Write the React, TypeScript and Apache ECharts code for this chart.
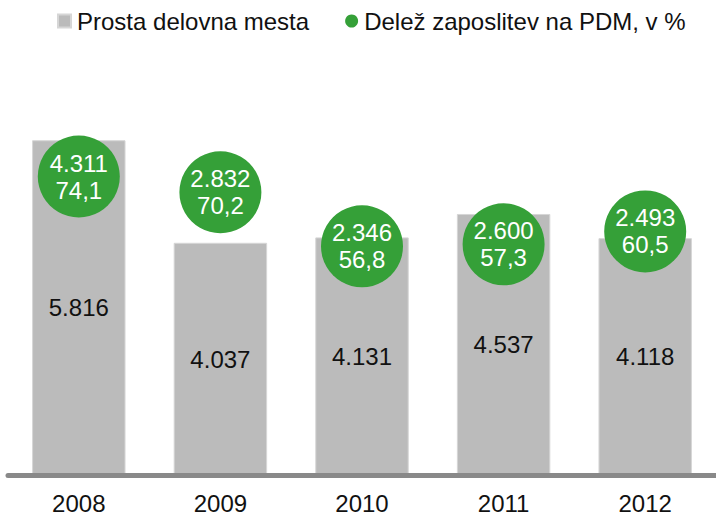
import React, { useEffect, useRef } from "react";
import * as echarts from "echarts";

const years = ["2008", "2009", "2010", "2011", "2012"];
const prostaMesta = [5816, 4037, 4131, 4537, 4118];
const zaposlitve = [4311, 2832, 2346, 2600, 2493];
const delez = [74.1, 70.2, 56.8, 57.3, 60.5];

const FONT = "'Liberation Sans', Arial, sans-serif";

function fmtThousands(v: number): string {
  return String(v).replace(/\B(?=(\d{3})+(?!\d))/g, ".");
}
function fmtDec(v: number): string {
  return v.toFixed(1).replace(".", ",");
}

export default function App() {
  const ref = useRef<HTMLDivElement>(null);
  useEffect(() => {
    if (!ref.current) return;
    const chart = echarts.init(ref.current, undefined, { renderer: "svg" });
    chart.setOption({
      animation: false,
      textStyle: { fontFamily: FONT },
      legend: {
        top: 4,
        left: 52,
        itemWidth: 13,
        itemHeight: 13,
        itemGap: 36,
        textStyle: { fontSize: 24, color: "#111", fontFamily: FONT, padding: [0, 0, 0, 1] },
        data: [
          { name: "Prosta delovna mesta", icon: "rect" },
          { name: "Delež zaposlitev na PDM, v %", icon: "circle" },
        ],
      },
      grid: { left: 8, width: 716, top: 72, bottom: 40.5 },
      xAxis: {
        type: "category",
        data: years,
        z: 10,
        axisLine: { show: true, lineStyle: { color: "#898989", width: 5 } },
        axisTick: { show: false },
        axisLabel: { fontSize: 24, color: "#111", margin: 16, fontFamily: FONT },
      },
      yAxis: [
        { type: "value", min: 0, max: 7000, show: false, splitLine: { show: false } },
        { type: "value", min: 0, max: 100, show: false, splitLine: { show: false } },
      ],
      series: [
        {
          name: "Prosta delovna mesta",
          type: "bar",
          data: prostaMesta,
          barCategoryGap: "34%",
          itemStyle: { color: "#bbbbbb", borderColor: "#d6d6d6", borderWidth: 1 },
          label: {
            show: true,
            position: "inside",
            fontSize: 24,
            color: "#111",
            fontFamily: FONT,
            formatter: (p: any) => fmtThousands(p.value),
          },
        },
        {
          name: "Delež zaposlitev na PDM, v %",
          type: "line",
          yAxisIndex: 1,
          data: delez,
          symbol: "circle",
          symbolSize: 82,
          lineStyle: { width: 0, opacity: 0 },
          itemStyle: { color: "#35a038" },
          z: 5,
          label: {
            show: true,
            position: "inside",
            fontSize: 24,
            lineHeight: 27,
            color: "#ffffff",
            fontFamily: FONT,
            formatter: (p: any) =>
              fmtThousands(zaposlitve[p.dataIndex]) + "\n" + fmtDec(delez[p.dataIndex]),
          },
        },
      ],
    });
    return () => chart.dispose();
  }, []);
  return (
    <div
      ref={ref}
      style={{ position: "fixed", left: 0, top: 0, width: 716, height: 516, background: "#fff" }}
    />
  );
}
